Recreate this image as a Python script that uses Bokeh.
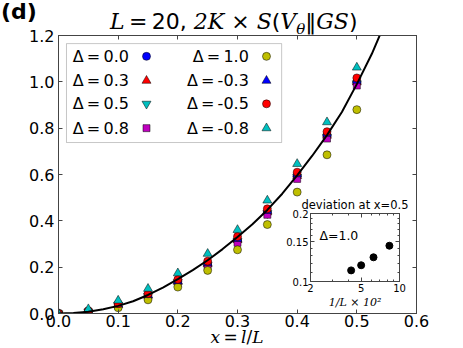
from bokeh.plotting import figure
from bokeh.models import (FixedTicker, PrintfTickFormatter, LinearAxis, LogAxis,
                          Label, Range1d, BoxAnnotation, Div)
from bokeh.layouts import column
from bokeh.embed import file_html
from bokeh.resources import INLINE

# ---------------- data ----------------
x_frac = [0.0, 0.05, 0.10, 0.15, 0.20, 0.25, 0.30, 0.35, 0.40, 0.45, 0.50]

S_d_p00 = [0.0, 0.009, 0.037, 0.078, 0.138, 0.214, 0.318, 0.438, 0.596, 0.770, 1.000]
S_d_p03 = [0.0, 0.009, 0.037, 0.077, 0.137, 0.213, 0.317, 0.437, 0.594, 0.768, 0.998]
S_d_p05 = [0.0, 0.008, 0.036, 0.075, 0.135, 0.210, 0.313, 0.433, 0.590, 0.763, 0.993]
S_d_p08 = [0.0, 0.007, 0.033, 0.072, 0.130, 0.204, 0.305, 0.426, 0.581, 0.755, 0.984]
S_d_p10 = [0.0, 0.004, 0.025, 0.059, 0.114, 0.186, 0.275, 0.384, 0.524, 0.685, 0.880]
S_d_m03 = [0.0, 0.010, 0.039, 0.080, 0.140, 0.218, 0.322, 0.443, 0.601, 0.776, 1.005]
S_d_m05 = [0.0, 0.012, 0.042, 0.085, 0.147, 0.226, 0.332, 0.452, 0.610, 0.785, 1.017]
S_d_m08 = [0.0, 0.019, 0.056, 0.107, 0.174, 0.258, 0.361, 0.488, 0.646, 0.826, 1.062]

delta_labels = ["0.0", "0.3", "0.5", "0.8", "1.0", "-0.3", "-0.5", "-0.8"]

curve_x = [0.0, 0.025, 0.05, 0.075, 0.10, 0.125, 0.15, 0.175, 0.20, 0.225, 0.25,
           0.275, 0.30, 0.325, 0.35, 0.375, 0.40, 0.425, 0.45, 0.475, 0.50, 0.525, 0.55]
curve_y = [0.0, 0.002, 0.008, 0.018, 0.033, 0.053, 0.080, 0.112, 0.148, 0.187, 0.230,
           0.278, 0.330, 0.385, 0.447, 0.517, 0.596, 0.680, 0.770, 0.870, 0.990, 1.120, 1.270]

inv_L_x100 = [4.17, 5.0, 6.25, 8.33]
dev_at_half = [0.112, 0.118, 0.128, 0.144]

x_ticks = [0.0, 0.1, 0.2, 0.3, 0.4, 0.5, 0.6]
y_ticks = [0.0, 0.2, 0.4, 0.6, 0.8, 1.0, 1.2]
in_x_ticks = [2, 5, 10]
in_x_minor = [3, 4, 6, 7, 8, 9]
in_y_ticks = [0.1, 0.15, 0.2]
in_y_minor = [0.11, 0.12, 0.13, 0.14, 0.16, 0.17, 0.18, 0.19]

series = [S_d_p00, S_d_p03, S_d_p05, S_d_p08, S_d_p10, S_d_m03, S_d_m05, S_d_m08]
markers = ["circle", "triangle", "inverted_triangle", "square",
           "circle", "triangle", "circle", "triangle"]
colors = ["#0000ff", "#ff0000", "#00bfbf", "#bf00bf",
          "#bfbf00", "#0000ff", "#ff0000", "#00bfbf"]
sizes = {"circle": 8, "triangle": 9, "inverted_triangle": 9, "square": 7}

EDGE = "#444444"
SANS = "DejaVu Sans"
SERIF = "DejaVu Serif"

# ---------------- main figure ----------------
p = figure(width=463, height=348,
           min_border_left=58, min_border_right=47, min_border_top=35, min_border_bottom=35,
           x_range=Range1d(0, 0.6), y_range=Range1d(0, 1.2),
           toolbar_location=None, output_backend="svg")
p.grid.visible = False
p.outline_line_color = EDGE
p.outline_line_width = 1
p.background_fill_color = "white"
p.border_fill_color = "white"


def style_axis(ax, ticks, labels=True, fs="16px", standoff=3):
    ax.ticker = FixedTicker(ticks=ticks, minor_ticks=[])
    ax.major_tick_in = 4
    ax.major_tick_out = 0
    ax.minor_tick_in = 0
    ax.minor_tick_out = 0
    ax.axis_line_color = EDGE
    ax.major_tick_line_color = EDGE
    ax.major_label_text_font = SANS
    ax.major_label_text_font_size = fs
    ax.major_label_text_color = "black"
    ax.major_label_standoff = standoff
    if not labels:
        ax.major_label_overrides = {t: "" for t in ticks}


style_axis(p.xaxis[0], x_ticks, standoff=1)
style_axis(p.yaxis[0], y_ticks, standoff=4)
p.xaxis[0].formatter = PrintfTickFormatter(format="%.1f")
p.yaxis[0].formatter = PrintfTickFormatter(format="%.1f")
top_ax = LinearAxis()
style_axis(top_ax, x_ticks, labels=False)
p.add_layout(top_ax, "above")
right_ax = LinearAxis()
style_axis(right_ax, y_ticks, labels=False)
p.add_layout(right_ax, "right")

# data points
for ys, mk, col in zip(series, markers, colors):
    p.scatter(x_frac, ys, marker=mk, size=sizes[mk], fill_color=col,
              line_color="black", line_width=0.5)

# theory curve
p.line(curve_x, curve_y, line_color="black", line_width=2)

# legend (manual, label first then marker, 2 columns)
leg = BoxAnnotation(left=0.0134, right=0.374, top=1.165, bottom=0.738,
                    fill_color="white", fill_alpha=1.0, line_color=EDGE, line_width=1)
p.add_layout(leg)
row_y = [1.110, 1.005, 0.905, 0.800]
col_text_x = [0.118, 0.319]
col_mark_x = [0.1475, 0.3486]
for i, (lab, mk, col) in enumerate(zip(delta_labels, markers, colors)):
    c, r = divmod(i, 4)
    t = Label(x=col_text_x[c], y=row_y[r], text="Δ\u2009=\u2009" + lab,
              text_font=SANS, text_font_size="16px", text_align="right",
              text_baseline="middle", text_color="black", level="overlay")
    p.add_layout(t)
    p.scatter([col_mark_x[c]], [row_y[r]], marker=mk, size=sizes[mk], fill_color=col,
              line_color="black", line_width=0.5, level="overlay")

# ---------------- text overlay (mixed fonts: panel tag, title, x label) ----------------
IT = "font-family:'DejaVu Serif';font-style:italic;"
overlay_html = (
    "<div style=\"position:absolute;left:1px;top:0px;font-family:'DejaVu Sans';"
    "font-weight:bold;font-size:22px;line-height:24px;white-space:nowrap;color:black\">(d)</div>"
    "<div style=\"position:absolute;left:110px;top:10px;font-family:'DejaVu Sans';"
    "font-size:22px;line-height:24px;white-space:nowrap;color:black\">"
    f"<span style=\"{IT}\">L</span>&thinsp;=&thinsp;20, "
    f"<span style=\"{IT}\">2K</span> × "
    f"<span style=\"{IT}\">S</span>(<span style=\"{IT}\">V</span>"
    f"<span style=\"{IT}font-size:15px;vertical-align:-5px;line-height:0\">θ</span>"
    f"‖<span style=\"{IT}\">GS</span>)</div>"
    "<div style=\"position:absolute;left:177px;width:120px;top:327px;text-align:center;"
    "font-family:'DejaVu Sans';font-size:17px;line-height:20px;white-space:nowrap;color:black\">"
    f"<span style=\"{IT}\">x</span>&thinsp;=&thinsp;<span style=\"{IT}\">l</span>/"
    f"<span style=\"{IT}\">L</span></div>"
)
overlay_div = Div(text=overlay_html, width=463, height=348, margin=(0, 0, 0, 0),
                  styles={"position": "absolute", "left": "0px", "top": "0px",
                          "pointer-events": "none"})

# ---------------- inset ----------------
q = figure(width=194, height=122,
           min_border_left=58, min_border_right=47, min_border_top=22, min_border_bottom=32,
           x_axis_type="log", y_axis_type="log",
           x_range=Range1d(2, 10), y_range=Range1d(0.1, 0.2),
           toolbar_location=None, output_backend="svg",
           title="deviation at x=0.5")
q.grid.visible = False
q.outline_line_color = EDGE
q.background_fill_color = "white"
q.border_fill_alpha = 0.0
q.title.text_font = SANS
q.title.text_font_size = "11.5px"
q.title.text_font_style = "normal"
q.title.text_color = "black"
q.title.align = "center"
q.title.standoff = 3


def style_inset_axis(ax, ticks, minor, labels=True):
    ax.ticker = FixedTicker(ticks=ticks, minor_ticks=minor)
    ax.major_tick_in = 4
    ax.major_tick_out = 0
    ax.minor_tick_in = 2
    ax.minor_tick_out = 0
    ax.axis_line_color = EDGE
    ax.major_tick_line_color = EDGE
    ax.minor_tick_line_color = EDGE
    ax.major_label_text_font = SANS
    ax.major_label_text_font_size = "10px"
    ax.major_label_text_color = "black"
    ax.major_label_standoff = 2
    if labels:
        ax.major_label_overrides = {t: str(t) for t in ticks}
    else:
        ax.major_label_overrides = {t: "" for t in ticks}


style_inset_axis(q.xaxis[0], in_x_ticks, in_x_minor)
style_inset_axis(q.yaxis[0], in_y_ticks, in_y_minor)
q.xaxis[0].axis_label = "1/L × 10²"
q.xaxis[0].axis_label_text_font = SERIF
q.xaxis[0].axis_label_text_font_style = "italic"
q.xaxis[0].axis_label_text_font_size = "11px"
q.xaxis[0].axis_label_text_color = "black"
q.xaxis[0].axis_label_standoff = 1
qt = LogAxis()
style_inset_axis(qt, in_x_ticks, in_x_minor, labels=False)
q.add_layout(qt, "above")
qr = LogAxis()
style_inset_axis(qr, in_y_ticks, in_y_minor, labels=False)
q.add_layout(qr, "right")

q.scatter(inv_L_x100, dev_at_half, marker="circle", size=7,
          fill_color="black", line_color="black")
q.add_layout(Label(x=2.35, y=0.1603, text="Δ=1.0", text_font=SANS,
                   text_font_size="12.5px", text_baseline="alphabetic",
                   text_color="black"))

q.styles = {"position": "absolute", "left": "252px", "top": "191px"}

layout = column(p, q, overlay_div, styles={"position": "relative"})

open("out.html", "w").write(file_html(layout, INLINE))
